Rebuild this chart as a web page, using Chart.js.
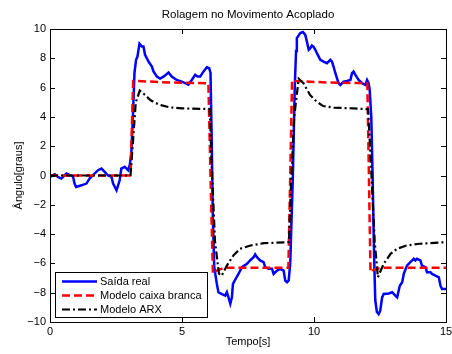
<!DOCTYPE html>
<html>
<head>
<meta charset="utf-8">
<script src="https://cdn.jsdelivr.net/npm/chart.js@4.4.1/dist/chart.umd.min.js"></script>
<style>
  html, body { margin: 0; padding: 0; background: #fff; }
</style>
</head>
<body>
<canvas id="rolagem" width="452" height="354"></canvas>
<script>
// Saída real (medido)
const tReal = [0, 0.18, 0.30, 0.43, 0.62, 0.75, 0.87, 0.93, 0.99, 1.19, 1.38, 1.50, 1.63, 1.82, 1.95, 2.07, 2.20, 2.33, 2.39, 2.52, 2.64, 2.70, 2.83, 2.96, 3.02, 3.08,
  3.14, 3.20, 3.26, 3.31, 3.39, 3.48, 3.54, 3.60, 3.67, 3.73, 3.86, 3.92, 4.05, 4.17, 4.30, 4.49, 4.61, 4.80, 4.99, 5.12, 5.24, 5.37, 5.50, 5.59, 5.69, 5.81, 5.94, 6.03, 6.08,
  6.12, 6.17, 6.22, 6.26, 6.32, 6.38, 6.51, 6.64, 6.70, 6.76, 6.83, 6.89, 6.93, 7.02, 7.14, 7.27, 7.46, 7.58, 7.71, 7.77, 7.84, 7.96, 8.09, 8.15, 8.28, 8.41, 8.47, 8.60, 8.72, 8.85, 8.91, 8.98, 9.04,
  9.10, 9.20, 9.27, 9.32, 9.35, 9.48, 9.58, 9.67, 9.73, 9.80, 9.86, 9.92, 9.98, 10.05, 10.11, 10.24, 10.36, 10.49, 10.62, 10.68, 10.74, 10.81, 10.87, 10.93, 11.00, 11.12, 11.25, 11.38, 11.44, 11.50, 11.57, 11.69, 11.82, 11.95, 12.01, 12.07, 12.11,
  12.17, 12.22, 12.27, 12.32, 12.38, 12.45, 12.51, 12.58, 12.64, 12.83, 12.96, 13.08, 13.15, 13.25, 13.34, 13.40, 13.52, 13.65, 13.78, 13.84, 13.90, 14.03, 14.09, 14.22, 14.28, 14.41, 14.47, 14.60, 14.73, 14.79, 14.85, 15.0];
const yReal = [-0.1, 0.09, -0.1, -0.21, 0.13, 0.02, -0.05, -0.55, -0.78, -0.67, -0.55, -0.21, 0.02, 0.36, 0.47, 0.25, 0, -0.1, -0.55, -1.01, -0.33, 0.47, 0.59, 0.36, 0.7, 1.5,
  4.0, 7.0, 7.9, 8.1, 9.0, 8.8, 8.8, 8.24, 8.0, 7.78, 7.44, 7.1, 6.75, 6.62, 6.75, 7.03, 6.75, 6.52, 6.41, 6.3, 6.2, 6.52, 6.87, 6.75, 6.75, 7.09, 7.39, 7.32, 7.0,
  3.0, -3.0, -6.2, -6.72, -7.4, -7.97, -8.09, -8.2, -7.97, -8.32, -8.75, -8.32, -7.4, -7.1, -6.72, -6.26, -6.03, -5.8, -5.58, -5.39, -5.58, -5.8, -5.92, -6.26, -6.37, -6.37, -6.72, -6.49, -6.37, -6.49, -7.17, -7.29, -7.17,
  -6.0, 0, 6.0, 8.5, 9.38, 9.72, 9.79, 9.6, 9.15, 8.58, 8.69, 8.87, 8.8, 8.58, 8.35, 7.9, 7.78, 7.67, 7.9, 7.78, 7.44, 6.98, 6.64, 6.3, 6.18, 6.41, 6.45, 6.52, 6.98, 7.09, 6.87, 6.52, 6.3, 6.18, 6.52, 6.3, 5.84,
  4.0, 0, -5.0, -8.5, -9.3, -9.46, -9.23, -8.32, -8.09, -8.05, -7.97, -8.2, -8.32, -7.52, -7.29, -6.72, -6.15, -5.92, -5.69, -5.8, -5.69, -5.8, -6.15, -6.26, -6.6, -6.6, -6.72, -6.83, -6.95, -7.52, -7.75, -7.75];

// Modelo caixa branca
const tBranca = [0, 3.05, 3.10, 3.15, 3.30, 4.50, 6.00, 6.08, 6.17, 6.30, 6.60, 9.03, 9.10, 9.17, 9.30, 10.50, 12.02, 12.08, 12.14, 12.30, 12.60, 15.0];
const yBranca = [0, 0, 3.2, 6.45, 6.45, 6.35, 6.3, 0, -6.7, -6.5, -6.3, -6.3, 0, 6.5, 6.45, 6.35, 6.3, 0, -6.6, -6.4, -6.3, -6.3];

// Modelo ARX
const tArx = [0, 3.05, 3.15, 3.25, 3.40, 3.60, 3.80, 4.00, 4.20, 4.55, 5.00, 6.05, 6.12, 6.25, 6.40, 6.50, 6.70, 6.95, 7.20, 7.60, 8.10, 9.05, 9.12, 9.25, 9.42, 9.60, 9.85, 10.10, 10.35, 10.75, 11.50, 12.05, 12.15, 12.30, 12.42, 12.50, 12.65, 12.90, 13.15, 13.50, 14.00, 15.0];
const yArx = [0, 0, 2.5, 5.0, 5.8, 5.5, 5.15, 4.95, 4.8, 4.65, 4.58, 4.54, 1.0, -4.5, -6.7, -6.85, -6.15, -5.45, -5.0, -4.78, -4.62, -4.55, -1.0, 4.0, 6.6, 6.3, 5.5, 5.04, 4.74, 4.63, 4.58, 4.52, 1.0, -4.5, -6.95, -6.6, -6.0, -5.35, -5.0, -4.78, -4.66, -4.55];

const xTicks = [0, 5, 10, 15];
const yTicks = [-10, -8, -6, -4, -2, 0, 2, 4, 6, 8, 10];
const chartTitle = "Rolagem no Movimento Acoplado";

const pts = (ts, ys) => ts.map((t, i) => ({ x: t, y: ys[i] }));

Chart.defaults.font.family = "'Liberation Sans', Arial, sans-serif";
Chart.defaults.font.size = 11;
Chart.defaults.color = "#000";

// caixa, marcas de escala para dentro (estilo MATLAB), título e legenda
const matlabBox = {
  id: "matlabBox",
  afterDatasetsDraw(chart) {
    const { ctx, chartArea: a, scales } = chart;
    ctx.save();
    ctx.strokeStyle = "#000";
    ctx.lineWidth = 1;
    ctx.beginPath();
    xTicks.forEach((v) => {
      const x = Math.round(scales.x.getPixelForValue(v)) + 0.5;
      ctx.moveTo(x, a.bottom); ctx.lineTo(x, a.bottom - 5);
      ctx.moveTo(x, a.top); ctx.lineTo(x, a.top + 5);
    });
    yTicks.forEach((v) => {
      const y = Math.round(scales.y.getPixelForValue(v)) + 0.5;
      ctx.moveTo(a.left, y); ctx.lineTo(a.left + 5, y);
      ctx.moveTo(a.right, y); ctx.lineTo(a.right - 5, y);
    });
    ctx.stroke();
    ctx.strokeRect(Math.round(a.left) + 0.5, Math.round(a.top) + 0.5,
      Math.round(a.right - a.left), Math.round(a.bottom - a.top));

    // título centrado sobre a área do gráfico
    ctx.fillStyle = "#000";
    ctx.font = "11.5px 'Liberation Sans', Arial, sans-serif";
    ctx.textAlign = "center";
    ctx.textBaseline = "middle";
    ctx.fillText(chartTitle, (a.left + a.right) / 2, 15);

    // legenda
    const bx = 55.5, by = 272.5, bw = 152, bh = 45;
    ctx.fillStyle = "#fff";
    ctx.fillRect(bx, by, bw, bh);
    ctx.strokeRect(bx, by, bw, bh);
    ctx.font = "11px 'Liberation Sans', Arial, sans-serif";
    ctx.textAlign = "left";
    ctx.textBaseline = "middle";
    chart.data.datasets.forEach((ds, i) => {
      const y = by + 9 + i * 14;
      ctx.save();
      ctx.strokeStyle = ds.borderColor;
      ctx.lineWidth = ds.borderWidth;
      ctx.setLineDash(ds.borderDash || []);
      ctx.beginPath();
      ctx.moveTo(62, y); ctx.lineTo(97, y);
      ctx.stroke();
      ctx.restore();
      ctx.fillStyle = "#000";
      ctx.fillText(ds.label, 100, y);
    });
    ctx.restore();
  },
};

new Chart(document.getElementById("rolagem"), {
  type: "line",
  data: {
    datasets: [
      { label: "Saída real", data: pts(tReal, yReal), borderColor: "#0000ff", borderWidth: 2.5, order: 3 },
      { label: "Modelo caixa branca", data: pts(tBranca, yBranca), borderColor: "#ff0000", borderWidth: 2.5, borderDash: [8, 4], order: 2 },
      { label: "Modelo ARX", data: pts(tArx, yArx), borderColor: "#000000", borderWidth: 2.2, borderDash: [8, 3, 2, 3], order: 1 },
    ],
  },
  options: {
    responsive: false,
    animation: false,
    elements: { point: { radius: 0 }, line: { tension: 0 } },
    layout: { padding: { left: 0, right: 6, top: 29, bottom: 0 } },
    scales: {
      x: {
        type: "linear",
        min: 0,
        max: 15,
        afterBuildTicks: (s) => { s.ticks = xTicks.map((v) => ({ value: v })); },
        afterFit: (s) => { s.height = 32; s.paddingLeft = 0; s.paddingRight = 0; },
        grid: { display: false, drawTicks: false },
        border: { display: false },
        ticks: { padding: 3, maxRotation: 0 },
        title: { display: true, text: "Tempo[s]", padding: { top: 0, bottom: 5 } },
      },
      y: {
        type: "linear",
        min: -10,
        max: 10,
        afterBuildTicks: (s) => { s.ticks = yTicks.map((v) => ({ value: v })); },
        afterFit: (s) => { s.width = 50; s.paddingTop = 0; s.paddingBottom = 0; },
        grid: { display: false, drawTicks: false },
        border: { display: false },
        ticks: {
          padding: 4,
          callback: (v) => (v < 0 ? "\u2212" + Math.abs(v) : String(v)),
        },
        title: { display: true, text: "Ângulo[graus]", padding: { top: 12, bottom: 0 } },
      },
    },
    plugins: {
      legend: { display: false },
      tooltip: { enabled: false },
      title: { display: false },
    },
  },
  plugins: [matlabBox],
});
</script>
</body>
</html>
